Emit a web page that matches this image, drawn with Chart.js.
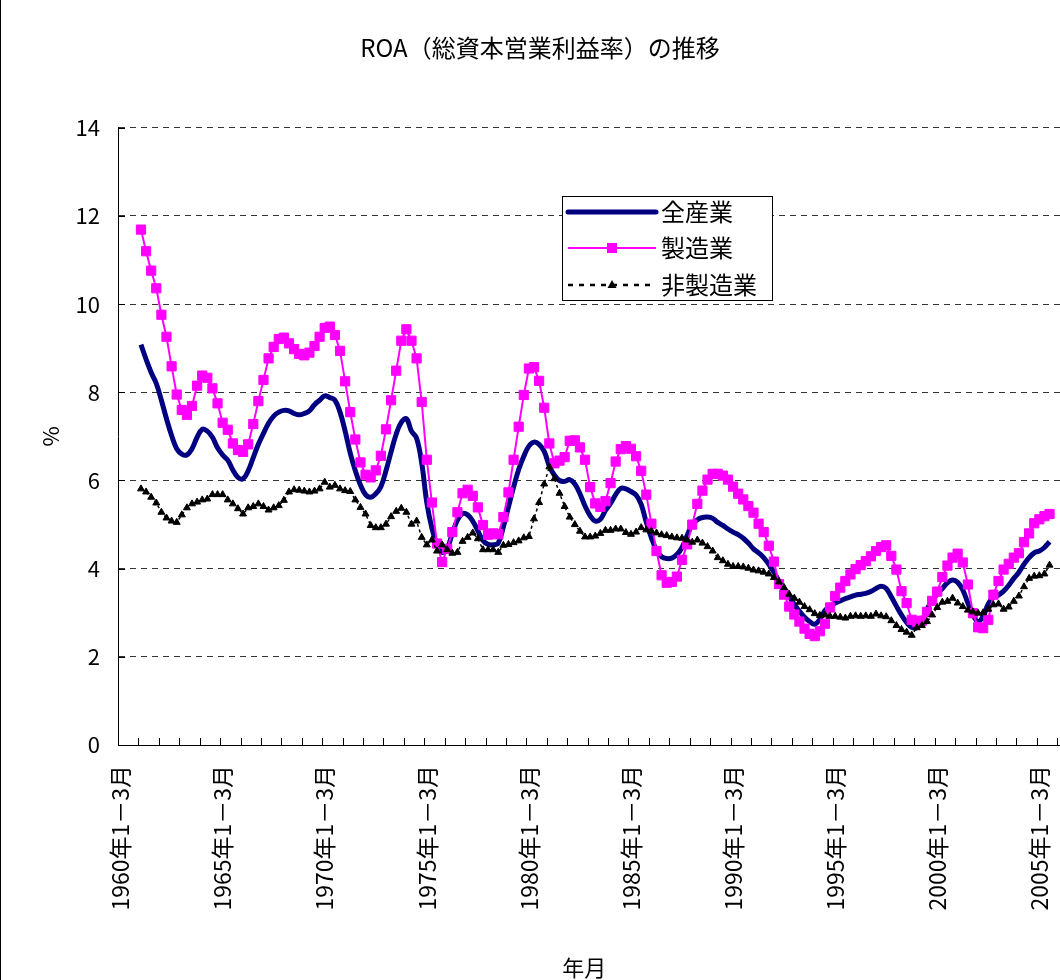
<!DOCTYPE html>
<html lang="ja">
<head>
<meta charset="utf-8">
<title>ROA（総資本営業利益率）の推移</title>
<script src="https://cdn.jsdelivr.net/npm/chart.js@4/dist/chart.umd.min.js"></script>
<style>
  html, body { margin: 0; padding: 0; background: #fff; overflow: hidden; }
  #wrap { width: 1080px; height: 980px; }
</style>
</head>
<body>
<div id="wrap"><canvas id="roaChart" width="1080" height="980"></canvas></div>
<script>
// quarterly categories, 1960 Q1 .. 2006 Q3
const startYear = 1960;
const quarterNames = ['1－3月', '4－6月', '7－9月', '10－12月'];
const quarterCount = 187;
const categories = [];
for (let i = 0; i < quarterCount; i++) {
    const q = i % 4;
    categories.push(q === 0 ? (startYear + i / 4) + '年' + quarterNames[q] : quarterNames[q]);
}

const seriesNames = ['全産業', '製造業', '非製造業'];
const yTicks = [0, 2, 4, 6, 8, 10, 12, 14];

// 全産業 (%)
const allIndustry = [
    null, null, null, null,
    9.08, 8.75, 8.45, 8.20, 7.82, 7.40, 7.02, 6.72, 6.60, 6.58,
    6.72, 6.98, 7.16, 7.12, 6.98, 6.74, 6.58, 6.46, 6.24, 6.07,
    6.04, 6.22, 6.52, 6.82, 7.07, 7.30, 7.46, 7.55, 7.59, 7.58,
    7.52, 7.49, 7.52, 7.58, 7.72, 7.82, 7.92, 7.88, 7.82, 7.55,
    7.12, 6.62, 6.22, 5.90, 5.68, 5.62, 5.70, 5.86, 6.22, 6.65,
    7.05, 7.32, 7.40, 7.12, 6.96, 6.40, 5.50, 4.92, 4.54, 4.37,
    4.46, 4.80, 5.10, 5.25, 5.22, 5.08, 4.86, 4.64, 4.55, 4.54,
    4.58, 4.95, 5.40, 5.85, 6.25, 6.55, 6.78, 6.87, 6.82, 6.66,
    6.33, 6.12, 6.00, 5.98, 6.02, 5.92, 5.70, 5.42, 5.20, 5.08,
    5.12, 5.32, 5.48, 5.68, 5.82, 5.81, 5.75, 5.67, 5.46, 5.05,
    4.70, 4.42, 4.27, 4.23, 4.24, 4.32, 4.48, 4.75, 5.00, 5.11,
    5.16, 5.17, 5.14, 5.05, 4.98, 4.90, 4.83, 4.77, 4.69, 4.58,
    4.45, 4.36, 4.25, 4.10, 3.92, 3.72, 3.55, 3.36, 3.19, 3.03,
    2.90, 2.80, 2.74, 2.85, 3.05, 3.15, 3.22, 3.27, 3.32, 3.36,
    3.40, 3.42, 3.44, 3.48, 3.55, 3.60, 3.55, 3.36, 3.15, 2.95,
    2.78, 2.67, 2.66, 2.82, 3.08, 3.28, 3.43, 3.55, 3.68, 3.74,
    3.69, 3.52, 3.22, 2.95, 2.80, 2.92, 3.20, 3.35, 3.40, 3.49,
    3.62, 3.78, 3.92, 4.10, 4.25, 4.36, 4.40, 4.48, 4.61
];

// 製造業 (%)
const manufacturing = [
    null, null, null, null,
    11.69, 11.20, 10.76, 10.36, 9.76, 9.26, 8.59, 7.95, 7.60, 7.49,
    7.69, 8.15, 8.38, 8.33, 8.09, 7.75, 7.31, 7.15, 6.84, 6.69,
    6.65, 6.82, 7.28, 7.80, 8.28, 8.77, 9.03, 9.21, 9.24, 9.11,
    8.98, 8.87, 8.84, 8.90, 9.05, 9.26, 9.46, 9.49, 9.30, 8.94,
    8.25, 7.55, 6.93, 6.41, 6.13, 6.07, 6.23, 6.56, 7.16, 7.82,
    8.49, 9.17, 9.43, 9.17, 8.77, 7.78, 6.47, 5.50, 4.57, 4.15,
    4.45, 4.83, 5.28, 5.71, 5.79, 5.65, 5.39, 4.99, 4.77, 4.80,
    4.78, 5.17, 5.73, 6.47, 7.22, 7.94, 8.54, 8.57, 8.26, 7.65,
    6.84, 6.39, 6.45, 6.53, 6.90, 6.91, 6.75, 6.47, 5.85, 5.48,
    5.40, 5.53, 5.94, 6.43, 6.71, 6.78, 6.72, 6.55, 6.22, 5.68,
    5.02, 4.40, 3.85, 3.68, 3.70, 3.82, 4.20, 4.55, 5.00, 5.47,
    5.77, 6.02, 6.15, 6.15, 6.11, 6.02, 5.86, 5.70, 5.57, 5.42,
    5.27, 5.02, 4.83, 4.52, 4.16, 3.65, 3.41, 3.14, 2.96, 2.80,
    2.64, 2.52, 2.47, 2.58, 2.75, 3.12, 3.38, 3.57, 3.72, 3.87,
    3.99, 4.08, 4.17, 4.28, 4.40, 4.49, 4.53, 4.29, 3.98, 3.49,
    3.22, 2.84, 2.79, 2.82, 3.02, 3.27, 3.48, 3.81, 4.07, 4.25,
    4.34, 4.14, 3.64, 2.99, 2.67, 2.65, 2.84, 3.41, 3.72, 3.98,
    4.11, 4.25, 4.35, 4.60, 4.80, 5.03, 5.12, 5.19, 5.24
];

// 非製造業 (%)
const nonManufacturing = [
    null, null, null, null,
    5.81, 5.74, 5.62, 5.49, 5.28, 5.15, 5.08, 5.05, 5.22, 5.38,
    5.47, 5.51, 5.56, 5.58, 5.68, 5.68, 5.68, 5.56, 5.47, 5.36,
    5.24, 5.38, 5.41, 5.47, 5.41, 5.33, 5.38, 5.43, 5.55, 5.74,
    5.79, 5.78, 5.76, 5.74, 5.76, 5.81, 5.96, 5.85, 5.89, 5.81,
    5.77, 5.75, 5.56, 5.39, 5.24, 4.98, 4.93, 4.93, 5.01, 5.18,
    5.30, 5.37, 5.28, 5.01, 5.08, 4.71, 4.54, 4.65, 4.40, 4.54,
    4.43, 4.35, 4.37, 4.62, 4.71, 4.81, 4.68, 4.43, 4.43, 4.43,
    4.37, 4.53, 4.55, 4.59, 4.63, 4.70, 4.73, 5.13, 5.50, 5.92,
    6.31, 6.04, 5.71, 5.41, 5.17, 5.00, 4.85, 4.72, 4.72, 4.74,
    4.80, 4.87, 4.87, 4.90, 4.90, 4.82, 4.78, 4.83, 4.93, 4.88,
    4.85, 4.81, 4.77, 4.75, 4.72, 4.70, 4.69, 4.65, 4.60, 4.65,
    4.58, 4.50, 4.40, 4.25, 4.18, 4.10, 4.05, 4.05, 4.04, 4.01,
    3.97, 3.95, 3.92, 3.88, 3.80, 3.70, 3.57, 3.42, 3.33, 3.24,
    3.14, 3.07, 2.98, 2.94, 2.95, 2.92, 2.92, 2.90, 2.88, 2.92,
    2.93, 2.92, 2.93, 2.92, 2.97, 2.93, 2.91, 2.82, 2.71, 2.62,
    2.56, 2.49, 2.66, 2.71, 2.80, 2.95, 3.12, 3.24, 3.26, 3.33,
    3.22, 3.14, 3.06, 3.02, 2.99, 3.00, 3.08, 3.18, 3.20, 3.08,
    3.13, 3.26, 3.38, 3.59, 3.78, 3.83, 3.84, 3.88, 4.08
];

const fontFamily = '"Noto Sans CJK JP", "Noto Sans", sans-serif';
Chart.defaults.font.family = fontFamily;
Chart.defaults.color = '#000';

// frame, inside tick marks and the boxed legend
const chartDecor = {
    id: 'chartDecor',
    beforeDraw(chart) {
        const ctx = chart.ctx;
        ctx.save();
        ctx.fillStyle = '#fff';
        ctx.fillRect(0, 0, chart.width, chart.height);
        ctx.strokeStyle = '#000';
        ctx.lineWidth = 1;
        ctx.beginPath();
        ctx.moveTo(0.5, 0);
        ctx.lineTo(0.5, chart.height);
        ctx.stroke();
        ctx.restore();
    },
    afterDraw(chart) {
        const ctx = chart.ctx;
        const xs = chart.scales.x;
        const ys = chart.scales.y;
        const half = (xs.getPixelForValue(1) - xs.getPixelForValue(0)) / 2;

        ctx.save();
        ctx.strokeStyle = '#000';
        ctx.lineWidth = 1;
        ctx.beginPath();
        for (let i = 0; i <= categories.length; i += 4) {
            const x = Math.round(xs.getPixelForValue(i) - half) + 0.5;
            ctx.moveTo(x, ys.bottom);
            ctx.lineTo(x, ys.bottom - 7);
        }
        yTicks.forEach(v => {
            const y = Math.round(ys.getPixelForValue(v)) + 0.5;
            ctx.moveTo(xs.left, y);
            ctx.lineTo(xs.left + 7, y);
        });
        ctx.stroke();
        ctx.restore();

        drawLegend(chart);
    }
};

function drawLegend(chart) {
    const ctx = chart.ctx;
    const ds = chart.data.datasets;
    const box = { x: 562.5, y: 196.5, w: 210, h: 104 };
    const rows = [212, 248, 285];
    const x1 = 568, x2 = 656, mid = 612, tx = 661;

    ctx.save();
    ctx.fillStyle = '#fff';
    ctx.fillRect(box.x, box.y, box.w, box.h);
    ctx.strokeStyle = '#000';
    ctx.lineWidth = 1;
    ctx.strokeRect(box.x, box.y, box.w, box.h);

    // 全産業
    ctx.strokeStyle = ds[0].borderColor;
    ctx.lineWidth = ds[0].borderWidth;
    ctx.lineCap = 'round';
    ctx.beginPath();
    ctx.moveTo(x1, rows[0]);
    ctx.lineTo(x2, rows[0]);
    ctx.stroke();

    // 製造業
    ctx.lineCap = 'butt';
    ctx.strokeStyle = ds[1].borderColor;
    ctx.lineWidth = ds[1].borderWidth;
    ctx.beginPath();
    ctx.moveTo(x1, rows[1]);
    ctx.lineTo(x2, rows[1]);
    ctx.stroke();
    ctx.fillStyle = ds[1].pointBackgroundColor;
    ctx.fillRect(mid - 5, rows[1] - 5, 10, 10);

    // 非製造業
    ctx.strokeStyle = '#000';
    ctx.lineWidth = 2.5;
    ctx.setLineDash([5, 6]);
    ctx.beginPath();
    ctx.moveTo(x1, rows[2]);
    ctx.lineTo(x2, rows[2]);
    ctx.stroke();
    ctx.setLineDash([]);
    ctx.fillStyle = '#000';
    ctx.beginPath();
    ctx.moveTo(mid, rows[2] - 5);
    ctx.lineTo(mid + 4.5, rows[2] + 3);
    ctx.lineTo(mid - 4.5, rows[2] + 3);
    ctx.closePath();
    ctx.fill();

    ctx.fillStyle = '#000';
    ctx.font = '24px ' + fontFamily;
    ctx.textBaseline = 'middle';
    ctx.textAlign = 'left';
    seriesNames.forEach((name, i) => ctx.fillText(name, tx, rows[i]));
    ctx.restore();
}

const ctx = document.getElementById('roaChart');

new Chart(ctx, {
    type: 'line',
    data: {
        labels: categories,
        datasets: [
            {
                label: seriesNames[0],
                data: allIndustry,
                borderColor: '#000080',
                borderWidth: 5,
                pointRadius: 0,
                tension: 0.4,
                order: 3
            },
            {
                label: seriesNames[1],
                data: manufacturing,
                borderColor: '#ff00ff',
                borderWidth: 2,
                pointStyle: 'rect',
                pointRadius: 6.5,
                pointBackgroundColor: '#ff00ff',
                pointBorderColor: '#ff00ff',
                pointBorderWidth: 1,
                tension: 0,
                order: 2
            },
            {
                label: seriesNames[2],
                data: nonManufacturing,
                borderColor: '#000',
                borderWidth: 1.5,
                borderDash: [3, 3],
                pointStyle: 'triangle',
                pointRadius: 4,
                pointBackgroundColor: '#000',
                pointBorderColor: '#000',
                pointBorderWidth: 1,
                tension: 0,
                order: 1
            }
        ]
    },
    options: {
        responsive: false,
        animation: false,
        devicePixelRatio: 1,
        layout: { padding: { left: 0, right: 0, top: 0, bottom: 0 } },
        plugins: {
            legend: { display: false },
            tooltip: { enabled: false },
            title: {
                display: true,
                text: 'ROA（総資本営業利益率）の推移',
                color: '#000',
                font: { size: 24, weight: 'normal', lineHeight: 1.2 },
                padding: { top: 33, bottom: 66 }
            }
        },
        scales: {
            x: {
                type: 'category',
                offset: true,
                grid: { display: false, drawTicks: false },
                border: { display: true, color: '#000', width: 1 },
                ticks: {
                    autoSkip: false,
                    minRotation: 90,
                    maxRotation: 90,
                    padding: 20,
                    font: { size: 23 },
                    callback: (value, index) => index % 20 === 0 ? categories[index] : ''
                },
                title: {
                    display: true,
                    text: '年月　',
                    font: { size: 22, lineHeight: 1 },
                    padding: { top: 0, bottom: 1 }
                },
                afterFit(scale) {
                    scale.height = 235;
                    scale.paddingLeft = 0;
                    scale.paddingRight = 0;
                }
            },
            y: {
                min: 0,
                max: 14,
                grid: { color: '#333', lineWidth: 1, drawTicks: false },
                border: { display: true, color: '#000', width: 1, dash: [6, 5] },
                ticks: {
                    stepSize: 2,
                    padding: 18,
                    font: { size: 22 }
                },
                title: {
                    display: true,
                    text: '%',
                    font: { size: 22, lineHeight: 1.2 },
                    padding: { top: 37, bottom: 0 }
                },
                afterFit(scale) { scale.width = 118; }
            }
        }
    },
    plugins: [chartDecor]
});
</script>
</body>
</html>
